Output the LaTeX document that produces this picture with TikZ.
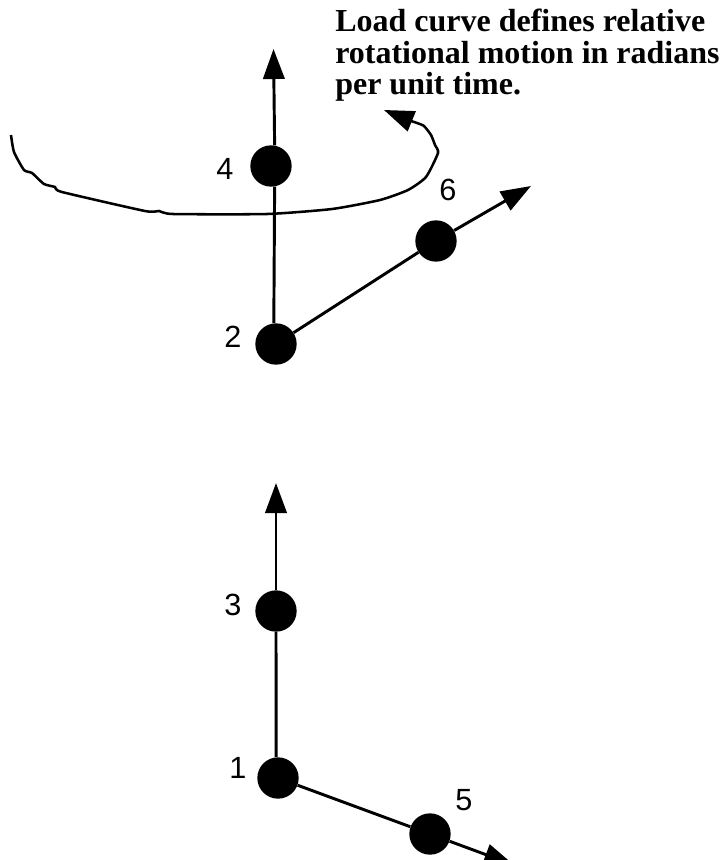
\documentclass[tikz,border=0pt]{standalone}
\usepackage{fontspec}
\setmainfont{Liberation Serif}
\newfontfamily\labelfont{Liberation Sans}
\usetikzlibrary{arrows.meta, positioning}
\tikzset{
    dot/.style={circle, fill=black, inner sep=0pt, minimum size=31pt},
    axisline/.style={line width=2.2pt},
    axisarrow/.style={line width=2.2pt, -{Triangle[length=22.5pt, width=16pt]}},
    numlabel/.style={font=\labelfont\fontsize{23}{25}\selectfont},
    note/.style={font=\bfseries\fontsize{24}{23.6}\selectfont, align=left, anchor=north west, inner sep=0pt}
}

\begin{document}
\begin{tikzpicture}[x=0.75pt, y=-0.75pt]
    \useasboundingbox (0,0) rectangle (720,860);
    \clip (0,0) rectangle (720,860);

    % Upper nodes
    \node[dot] (n2) at (276,344) {};
    \node[dot] (n4) at (271,166) {};
    \node[dot] (n6) at (436,241) {};
    \coordinate (tip4) at (273.5,49);
    \coordinate (tip6) at (531,186);

    % Lower nodes
    \node[dot] (n1) at (278,778) {};
    \node[dot] (n3) at (276,611) {};
    \node[dot] (n5) at (430,834) {};
    \coordinate (tip3) at (276,483);
    \coordinate (tip5) at (514,865);

    % Upper axes
    \draw[axisline] (n2.96) -- (n4.-80);
    \draw[axisarrow] (n4.80) -- (tip4);
    \draw[axisline] (n2) -- (n6);
    \draw[axisarrow] (n6) -- (tip6);

    % Lower axes
    \draw[axisline] (n1.95) -- (n3.south);
    \draw[axisarrow] (n3) -- (tip3);
    \draw[axisline] (n1) -- (n5);
    \draw[axisarrow] (n5) -- (tip5);

    % Rotation curve
    \draw[line width=1.9pt, -{Triangle[length=22.5pt, width=16pt]}]
        plot[smooth, tension=0.35] coordinates {(11,135) (14,152) (24,170) (32,173) (44,184) (55,187)
        (62,192) (145,211) (159,211) (173,214) (267,214) (332,209) (380,200) (408,190) (426,177)
        (438,153) (435,145) (431,135) (424,126) (417,123) (411,121)} -- (384,110);

    % Labels
    \node[numlabel] (l1) at (238,768) {1};
    \node[numlabel] (l2) at (233,337) {2};
    \node[numlabel] (l3) at (233,605) {3};
    \node[numlabel] (l4) at (225,169) {4};
    \node[numlabel] (l5) at (464,800) {5};
    \node[numlabel] (l6) at (448,190) {6};

    \node[note] (loadnote) at (335,9) {Load curve defines relative\\rotational motion in radians\\per unit time.};
\end{tikzpicture}
\end{document}
